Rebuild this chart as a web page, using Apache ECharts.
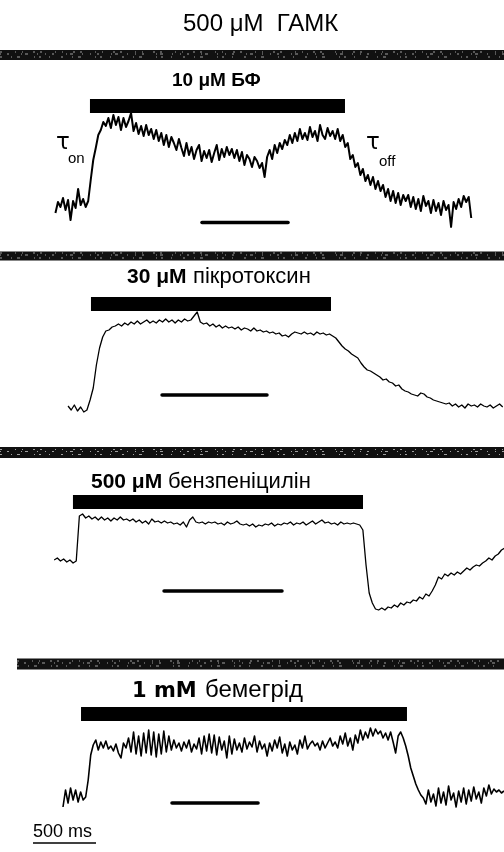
<!DOCTYPE html>
<html><head><meta charset="utf-8">
<script src="https://cdn.jsdelivr.net/npm/echarts@6/dist/echarts.min.js"></script>
<style>html,body{margin:0;padding:0;background:#fff}#c{width:504px;height:852px}</style>
</head><body><div id="c"></div>
<script>
// ---------- DATA (time in ms, current in relative units, baseline = 0) ----------
const X_MAX = 4000;
// Panel 1: 10 µM БФ
const p1Start = 440, p1Step = 20;
const p1Values = [-8,3,-2,7,-5,5,-15,4,-3,16, 0,6,-2,4, 25,45,57,70,75,83,
  79,87,77,90,80,88,75,87,78,84,
  92,74,82,71,79,69,80,70,76,66,
  75,64,72,60,70,58,68,62,55,66,
  57,49,62,50,58,46,55,60,44,54,
  47,55,43,52,60,45,56,48,58,50,
  56,47,55,44,53,40,50,46,38,48,
  44,37,42,28,48,55,46,60,52,62,
  56,65,60,70,62,72,64,76,66,72,
  65,78,68,74,64,80,70,66,77,69,
  74,66,76,64,70,58,62,46,50,38,
  42,30,36,24,30,20,28,16,24,14,
  20,8,16,4,14,2,12,0,10,4,
  10,-2,8,-4,6,-6,9,-1,4,-8,
  5,-6,2,-10,4,-5,0,-22,3,-4,
  6,-2,9,3,8,-13];
// Panel 2: 30 µM пікротоксин
const p2Start = 540, p2Step = 25;
const p2Values = [2,-2,3,-3,1,-4,-2,
  8,20,43,60,71,77,78,81,82,
  84,82,85,83,86,84,87,84,86,88,85,87,85,88,86,89,86,88,85,88,86,89,87,88,
  92,96,
  86,84,85,82,84,81,83,80,82,80,81,79,81,78,80,79,77,80,77,78,76,77,75,76,74,75,
  72,73,71,74,76,75,74,76,74,75,73,76,74,75,73,74,72,
  70,66,62,59,57,54,52,50,45,41,38,37,35,33,31,28,29,26,25,22,23,19,17,16,14,13,12,
  15,14,11,10,8,7,6,5,4,5,2,4,1,3,0,4,2,3,1,4,2,1,3,0,2,4,1];
// Panel 3: 500 µM бензпеніцилін
const p3Start = 430, p3Step = 25;
const p3Values = [0,2,-1,1,-2,0,-3,-1,
  44,46,42,44,41,43,40,43,40,42,39,42,40,43,40,41,39,41,38,40,37,39,36,
  41,38,39,37,39,37,38,36,37,35,38,33,40,43,38,37,38,36,38,37,38,36,37,35,38,36,37,
  39,36,35,36,34,36,33,35,34,36,35,37,34,36,35,37,36,38,35,37,
  36,38,35,37,39,36,38,40,37,38,36,37,35,38,36,37,36,37,36,35,
  30,-5,-33,-43,-49,-50,-48,-50,-47,-48,-45,-47,-43,-45,-42,-43,-40,-41,-37,-39,-34,-36,-31,
  -25,-17,-19,-14,-16,-13,-15,-12,-14,-11,-8,-10,-7,-5,-6,-3,-1,2,0,4,6,10,12];
// Panel 4: 1 mM бемегрід
const p4Start = 500, p4Step = 20;
const p4Values = [-9,8,-5,10,-2,8,-4,6,-2,1, 18,43,53,
  58,48,56,50,57,49,52,47,54,45,
  40,55,50,60,46,66,44,62,42,65,
  45,68,43,66,41,64,44,67,46,62,
  48,58,50,55,47,56,50,58,46,54,
  49,60,44,62,47,64,45,63,43,61,
  48,57,40,62,44,59,48,55,46,60,
  49,56,51,62,46,57,49,54,42,55,
  47,58,50,61,45,54,42,56,48,53,
  44,58,50,62,49,54,57,52,55,48,
  57,50,55,60,52,56,50,62,54,65,
  52,60,48,63,55,68,58,66,60,70,
  62,69,64,67,60,65,58,66,56,45,
  62,66,60,52,42,30,22,14,8,3,
  0,-6,8,-4,4,-8,10,-5,6,-7,
  12,-2,5,-9,7,-4,10,-6,8,-3,
  11,-1,6,-5,10,2,13,4,9,6,8,5,7];
// Drug application (ms)
const drugStart = [714, 722, 579, 643];
const drugEnd   = [2738, 2627, 2881, 3230];
// GABA application band (ms)
const gabaStart = [0, 0, 0, 135];
const gabaEnd   = [4000, 4000, 4000, 4000];
// Horizontal bars under traces (ms)
const barStart = [1603, 1286, 1302, 1365];
const barEnd   = [2286, 2119, 2238, 2048];
// Time scale bar
const scaleStart = 262, scaleLength = 500;
// Texts
const titleText = '500 μM  ГАМК';
const drugBold = ['10 μM БФ', '30 μM', '500 μM', '1 mM'];
const drugName = ['', 'пікротоксин', 'бензпеніцилін', 'бемегрід'];
const scaleLabel = '500 ms';

// ---------- LAYOUT ----------
const panels = [
  {top: 40,  height: 200, yMin: -35, yMax: 165, gaba: 150, gabaW: 10, drug: 99,  bar: -17.5, lw: 2.0},
  {top: 240, height: 190, yMin: -22, yMax: 168, gaba: 152, gabaW: 9,  drug: 104, bar: 13,    lw: 1.3},
  {top: 430, height: 210, yMin: -80, yMax: 130, gaba: 107.5, gabaW: 11, drug: 58, bar: -31,  lw: 1.3},
  {top: 640, height: 212, yMin: -54, yMax: 158, gaba: 134, gabaW: 11, drug: 84,  bar: -5,    lw: 1.6}
];
const traces = [[p1Start,p1Step,p1Values],[p2Start,p2Step,p2Values],[p3Start,p3Step,p3Values],[p4Start,p4Step,p4Values]];

const grid = [], xAxis = [], yAxis = [], series = [];
panels.forEach((p, k) => {
  grid.push({left: 0, right: 0, top: p.top, height: p.height});
  xAxis.push({type: 'value', gridIndex: k, min: 0, max: X_MAX, show: false});
  yAxis.push({type: 'value', gridIndex: k, min: p.yMin, max: p.yMax, show: false});
  const common = {xAxisIndex: k, yAxisIndex: k, type: 'line', showSymbol: false, symbol: 'none', silent: true, animation: false};
  // GABA band
  series.push(Object.assign({}, common, {data: [[gabaStart[k], p.gaba], [gabaEnd[k], p.gaba]],
    lineStyle: {color: '#111', width: p.gabaW, cap: 'butt'}}));
  [[-2, [2,9,1,5,3,14,1,4,2,8,1,11]], [1, [1,6,2,12,1,3,3,9,1,7]], [3, [2,13,1,6,1,10,2,5]]].forEach(([off, dash]) => {
    series.push(Object.assign({}, common, {data: [[gabaStart[k], p.gaba + off], [gabaEnd[k], p.gaba + off]],
      lineStyle: {color: '#a0a0a0', width: 1.2, type: dash, cap: 'butt'}}));
  });
  // drug bar
  series.push(Object.assign({}, common, {data: [[drugStart[k], p.drug], [drugEnd[k], p.drug]],
    lineStyle: {color: '#000', width: 14, cap: 'butt'}}));
  // bar under trace
  series.push(Object.assign({}, common, {data: [[barStart[k], p.bar], [barEnd[k], p.bar]],
    lineStyle: {color: '#000', width: 3.5, cap: 'round'}}));
  // trace
  const [t0, dt, vals] = traces[k];
  series.push(Object.assign({}, common, {data: vals.map((v, i) => [t0 + i * dt, v]),
    lineStyle: {color: '#000', width: p.lw, join: 'round'}}));
});
// time scale bar in panel 4
series.push({type: 'line', xAxisIndex: 3, yAxisIndex: 3, showSymbol: false, symbol: 'none', silent: true, animation: false,
  data: [[scaleStart, -45], [scaleStart + scaleLength, -45]], lineStyle: {color: '#000', width: 1.5}});

const FF = '"Liberation Sans", Arial, sans-serif';
const FD = '"DejaVu Sans", sans-serif';
// [boldX, nameX, y, boldSize, nameSize, boldFamily]
const labelPos = [[172, 0, 71, 19, 19, FF], [127, 193, 266, 21, 22, FF], [91, 168, 471, 21, 22, FF], [132, 205, 678, 21, 24, FD]];
const graphic = [
  {type: 'text', x: 183, y: 12, style: {text: titleText, font: '24px ' + FF, fill: '#000'}},
  {type: 'text', x: 33, y: 823, style: {text: scaleLabel, font: '18px ' + FF, fill: '#000'}},
  {type: 'text', x: 56, y: 132, style: {text: 'τ', font: '23px ' + FD, fill: '#000'}},
  {type: 'text', x: 68, y: 151, style: {text: 'on', font: '15px ' + FF, fill: '#000'}},
  {type: 'text', x: 366, y: 132, style: {text: 'τ', font: '23px ' + FD, fill: '#000'}},
  {type: 'text', x: 379, y: 154, style: {text: 'off', font: '15px ' + FF, fill: '#000'}}
];
drugBold.forEach((b, k) => {
  const [bx, nx, y, bs, ns, fam] = labelPos[k];
  graphic.push({type: 'text', x: bx, y: y + (ns - bs), style: {text: b, font: 'bold ' + bs + 'px ' + fam, fill: '#000'}});
  if (drugName[k]) {
    graphic.push({type: 'text', x: nx, y: y, style: {text: drugName[k], font: ns + 'px ' + FF, fill: '#000'}});
  }
});

const chart = echarts.init(document.getElementById('c'), null, {renderer: 'canvas'});
chart.setOption({animation: false, grid, xAxis, yAxis, series, graphic});
</script></body></html>
